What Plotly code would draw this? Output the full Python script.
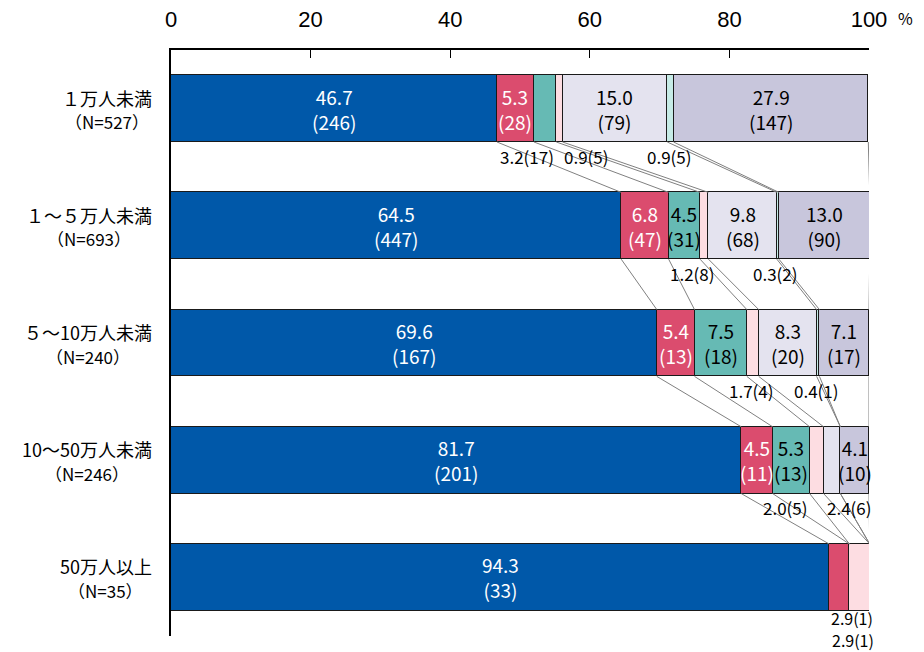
import plotly.graph_objects as go

# ---------------- data ----------------
categories = ["１万人未満", "１～５万人未満", "５～10万人未満", "10～50万人未満", "50万人以上"]
n_labels = ["（N=527）", "（N=693）", "（N=240）", "（N=246）", "（N=35）"]
x_ticks = [0, 20, 40, 60, 80, 100]

s1_pct = [46.7, 64.5, 69.6, 81.7, 94.3]
s2_pct = [5.3, 6.8, 5.4, 4.5, 2.9]
s3_pct = [3.2, 4.5, 7.5, 5.3, 0.0]
s4_pct = [0.9, 1.2, 1.7, 2.0, 2.9]
s5_pct = [15.0, 9.8, 8.3, 2.4, 0.0]
s6_pct = [0.9, 0.3, 0.4, 0.0, 0.0]
s7_pct = [27.9, 13.0, 7.1, 4.1, 0.0]

s1_n = [246, 447, 167, 201, 33]
s2_n = [28, 47, 13, 11, 1]
s3_n = [17, 31, 18, 13, 0]
s4_n = [5, 8, 4, 5, 1]
s5_n = [79, 68, 20, 6, 0]
s6_n = [5, 2, 1, 0, 0]
s7_n = [147, 90, 17, 10, 0]

# ---------------- styles ----------------
colors = ["#0058A9", "#DB4C6E", "#66BAB4", "#FDDDE2", "#E4E3EF", "#C6EBE6", "#C8C6DC"]
inside_text_colors = ["white", "white", "black", "black", "black", "black", "black"]
JP = "Noto Sans CJK JP"
BAR_W = 0.57
CAT_FS = 18
# horizontal nudges (px) of the small outside labels, keyed by (row, series)
out_dx = {(0, 2): -18, (0, 3): 27, (0, 5): -1, (1, 3): -12, (1, 5): -2,
          (2, 3): -1, (2, 5): -2, (3, 3): -31, (3, 4): 17, (4, 1): 13, (4, 3): -7}

pcts = [s1_pct, s2_pct, s3_pct, s4_pct, s5_pct, s6_pct, s7_pct]
counts = [s1_n, s2_n, s3_n, s4_n, s5_n, s6_n, s7_n]
rows = list(range(len(categories)))

fig = go.Figure()

# connector lines between consecutive bars
cum = []
for r in rows:
    c, acc = [], 0.0
    for s in range(len(pcts)):
        acc += pcts[s][r]
        c.append(acc)
    cum.append(c)
lx, ly = [], []
for r in rows[:-1]:
    for k in range(len(pcts)):
        lx += [cum[r][k], cum[r + 1][k], None]
        ly += [r + BAR_W / 2, r + 1 - BAR_W / 2, None]
fig.add_trace(go.Scatter(x=lx, y=ly, mode="lines", line=dict(color="#808080", width=1),
                         hoverinfo="skip", showlegend=False))

for s in range(len(pcts)):
    fig.add_trace(go.Bar(
        x=pcts[s], y=rows, orientation="h", width=BAR_W,
        marker=dict(color=colors[s], line=dict(color="#1a1a1a", width=1.5)),
        showlegend=False, hoverinfo="skip"))

annotations = []
# inside / outside value labels
for r in rows:
    stack_i = 0
    for s in range(len(pcts)):
        v = pcts[s][r]
        if v <= 0:
            continue
        left = cum[r][s] - v
        mid = left + v / 2
        if v >= 4:
            annotations.append(dict(
                x=mid, y=r, xref="x", yref="y", showarrow=False,
                text=f"{v:.1f}<br>({counts[s][r]})", align="center",
                font=dict(family=JP, size=19, color=inside_text_colors[s])))
        else:
            last = r == len(rows) - 1
            base = 7 if last else 14
            annotations.append(dict(
                x=mid, y=r + BAR_W / 2, xref="x", yref="y", showarrow=False,
                text=f"{v:.1f}({counts[s][r]})", yanchor="middle",
                xshift=out_dx.get((r, s), 0), yshift=-(base + 22 * stack_i),
                font=dict(family=JP, size=16 if last else 17, color="black")))
            if last:
                stack_i += 1


def text_width(t, fs):
    return sum(fs if ord(ch) > 0x2000 else 0.56 * fs for ch in t)


# category labels (two lines, centred on each other, right edge fixed)
for r in rows:
    w1 = text_width(categories[r], CAT_FS)
    annotations.append(dict(
        x=0, y=r, xref="paper", yref="y", xanchor="right", yanchor="middle",
        xshift=-17, yshift=11, showarrow=False, text=categories[r],
        font=dict(family=JP, size=CAT_FS, color="black")))
    annotations.append(dict(
        x=0, y=r, xref="paper", yref="y", xanchor="center", yanchor="middle",
        xshift=-17 - w1 / 2 - 2, yshift=-13, showarrow=False, text=n_labels[r],
        font=dict(family=JP, size=CAT_FS - 1, color="black")))

annotations.append(dict(x=1, y=1, xref="paper", yref="paper", xshift=36, yshift=32,
                        showarrow=False, text="%", xanchor="center", yanchor="middle",
                        font=dict(family=JP, size=16, color="black")))

fig.update_layout(
    width=924, height=652,
    margin=dict(l=171, r=55, t=50, b=16, autoexpand=False),
    paper_bgcolor="white", plot_bgcolor="white",
    barmode="stack", bargap=0,
    annotations=annotations,
    xaxis=dict(range=[0, 100], side="top", tickvals=x_ticks, ticktext=[str(t) for t in x_ticks],
               ticks="inside", ticklen=8, tickwidth=1, tickcolor="black",
               showline=True, linecolor="black", linewidth=1.5, automargin=False,
               showgrid=False, zeroline=False, ticklabelstandoff=12,
               tickfont=dict(family="Liberation Sans Narrow, Arial Narrow, sans-serif", size=22, color="black")),
    yaxis=dict(range=[4.5, -0.5], showticklabels=False, ticks="", automargin=False,
               showline=True, linecolor="black", linewidth=1.5,
               showgrid=False, zeroline=False),
)

fig.write_html("out.html")
